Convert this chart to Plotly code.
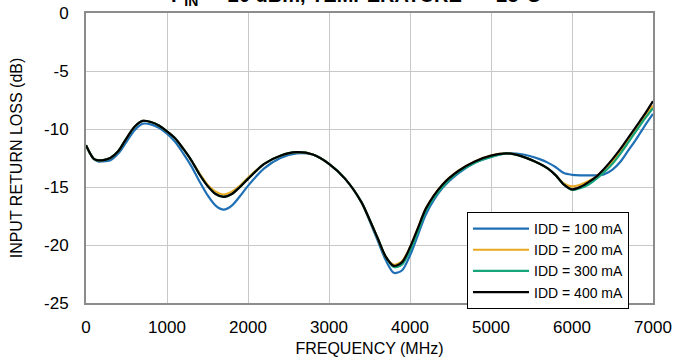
import plotly.graph_objects as go

freq = [0, 50, 100, 150, 200, 300, 400, 500, 600, 700, 800, 900, 1000, 1100, 1200, 1300, 1400,
        1500, 1600, 1700, 1800, 1900, 2000, 2200, 2400, 2600, 2800, 3000, 3200, 3400, 3500, 3600,
        3700, 3800, 3900, 4000, 4100, 4200, 4400, 4600, 4800, 5000, 5200, 5400, 5600, 5700, 5800,
        5900, 6000, 6100, 6200, 6300, 6400, 6500, 6600, 6700, 6800, 6900, 7000]

idd100 = [-11.4, -12.1, -12.6, -12.8, -12.8, -12.7, -12.1, -11.1, -10.1, -9.55, -9.6, -9.9, -10.4,
          -11.1, -12.1, -13.2, -14.5, -15.7, -16.6, -16.95, -16.6, -15.8, -14.9, -13.4, -12.5, -12.1,
          -12.2, -13.0, -14.3, -16.3, -17.9, -19.6, -21.3, -22.4, -22.2, -20.9, -19.1, -17.3, -15.1,
          -13.8, -12.9, -12.4, -12.1, -12.2, -12.6, -12.9, -13.3, -13.8, -13.95, -14.0, -14.0, -14.0,
          -13.9, -13.5, -12.8, -11.8, -10.8, -9.7, -8.7]

idd200 = [-11.4, -12.1, -12.6, -12.7, -12.7, -12.5, -11.9, -10.8, -9.8, -9.3, -9.4, -9.7, -10.2,
          -10.8, -11.7, -12.7, -13.8, -14.8, -15.4, -15.65, -15.4, -14.9, -14.2, -13.0, -12.3, -12.0,
          -12.2, -13.0, -14.3, -16.3, -17.8, -19.4, -21.0, -21.7, -21.4, -20.2, -18.5, -16.8, -14.8,
          -13.6, -12.8, -12.3, -12.1, -12.4, -13.0, -13.4, -14.0, -14.7, -14.95, -14.8, -14.5, -14.1,
          -13.5, -12.8, -11.9, -10.9, -9.9, -8.9, -8.0]

idd300 = [-11.4, -12.1, -12.6, -12.7, -12.7, -12.5, -11.9, -10.8, -9.8, -9.3, -9.4, -9.7, -10.2,
          -10.8, -11.7, -12.7, -13.9, -14.9, -15.6, -15.85, -15.6, -15.0, -14.3, -13.0, -12.3, -12.0,
          -12.2, -13.0, -14.3, -16.3, -17.8, -19.4, -21.0, -21.9, -21.7, -20.5, -18.8, -17.0, -15.0,
          -13.7, -12.9, -12.4, -12.1, -12.4, -13.0, -13.4, -14.0, -14.8, -15.25, -15.1, -14.8, -14.3,
          -13.7, -13.0, -12.1, -11.1, -10.1, -9.1, -8.2]

idd400 = [-11.4, -12.1, -12.6, -12.7, -12.7, -12.5, -11.9, -10.8, -9.8, -9.3, -9.4, -9.7, -10.2,
          -10.8, -11.7, -12.7, -13.9, -14.9, -15.6, -15.85, -15.6, -15.0, -14.3, -13.0, -12.3, -12.0,
          -12.2, -13.0, -14.3, -16.3, -17.8, -19.4, -21.0, -21.8, -21.5, -20.2, -18.5, -16.8, -14.8,
          -13.6, -12.8, -12.3, -12.1, -12.4, -13.0, -13.4, -14.0, -14.8, -15.2, -15.0, -14.6, -14.1,
          -13.4, -12.6, -11.7, -10.7, -9.7, -8.7, -7.6]

series = [
    ("IDD = 100 mA", idd100, "#1f6fb5"),
    ("IDD = 200 mA", idd200, "#eba920"),
    ("IDD = 300 mA", idd300, "#16a57b"),
    ("IDD = 400 mA", idd400, "#000000"),
]

x_ticks = [0, 1000, 2000, 3000, 4000, 5000, 6000, 7000]
y_ticks = [0, -5, -10, -15, -20, -25]

fig = go.Figure()
for name, vals, col in series:
    fig.add_trace(go.Scatter(x=freq, y=vals, name=name, mode="lines",
                             line=dict(color=col, width=2.2, shape="spline", smoothing=0.8)))

font_family = "Liberation Sans, Arial, sans-serif"
fig.update_layout(
    width=689, height=362,
    margin=dict(l=86, r=36, t=13, b=59, autoexpand=False),
    paper_bgcolor="white", plot_bgcolor="white",
    font=dict(family=font_family, size=16, color="#000000"),
    showlegend=True,
    legend=dict(x=0.672, y=0.314, xanchor="left", yanchor="top",
                bgcolor="white", bordercolor="#000000", borderwidth=1,
                font=dict(size=14), tracegroupgap=0, itemwidth=56),
    xaxis=dict(range=[0, 7000], tickvals=x_ticks, ticktext=[str(v) for v in x_ticks],
               showgrid=True, gridcolor="#c8c8c8", gridwidth=1,
               showline=True, linecolor="#8c8c8c", linewidth=2, mirror=True,
               ticks="", zeroline=False, automargin=False, ticklabelstandoff=8,
               title=dict(text="FREQUENCY (MHz)", standoff=6, font=dict(size=16)),
               tickfont=dict(size=17)),
    yaxis=dict(range=[-25, 0], tickvals=y_ticks, ticktext=[str(v) for v in y_ticks],
               showgrid=True, gridcolor="#c8c8c8", gridwidth=1,
               showline=True, linecolor="#8c8c8c", linewidth=2, mirror=True,
               ticks="", zeroline=False, ticklabelstandoff=12, automargin=False,
               title=dict(text="INPUT RETURN LOSS (dB)", standoff=17, font=dict(size=16)),
               tickfont=dict(size=17)),
    annotations=[dict(text="<b>P<sub>IN</sub> = -20 dBm, TEMPERATURE = +25°C</b>",
                      xref="paper", yref="paper", x=0.5, y=1.0, yshift=2, xshift=-14,
                      xanchor="center", yanchor="bottom", showarrow=False,
                      font=dict(size=20, color="#000000"))],
)

fig.write_html("out.html")
